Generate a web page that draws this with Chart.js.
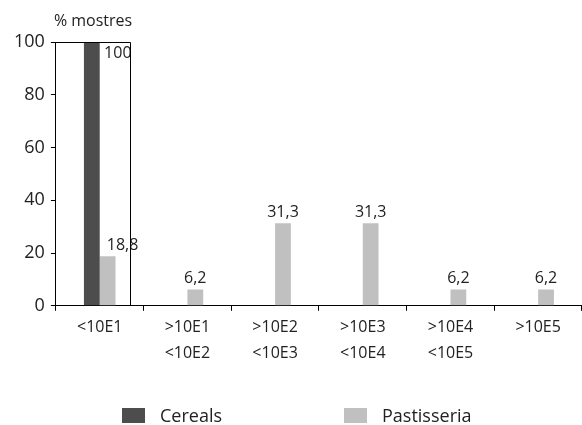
<!DOCTYPE html>
<html>
<head>
<meta charset="utf-8">
<script src="https://cdn.jsdelivr.net/npm/chart.js@4"></script>
<style>
  body { margin: 0; background: #fff; overflow: hidden; }
  #wrap { position: relative; width: 582px; height: 425px; }
  canvas { display: block; }
  .legend { position: absolute; top: 403px; font: 18px "Open Sans", sans-serif; color: #222; display: flex; align-items: center; }
  .legend span.box { display: inline-block; width: 23px; height: 15px; margin-right: 15px; }
</style>
</head>
<body>
<div id="wrap">
  <canvas id="c" width="582" height="425"></canvas>
  <div class="legend" style="left:122px"><span class="box" style="background:#4d4d4d"></span>Cereals</div>
  <div class="legend" style="left:344px"><span class="box" style="background:#c0c0c0"></span>Pastisseria</div>
</div>
<script>
// data
const categories = [['<10E1'], ['>10E1', '<10E2'], ['>10E2', '<10E3'], ['>10E3', '<10E4'], ['>10E4', '<10E5'], ['>10E5']];
const cereals = [100, 0, 0, 0, 0, 0];
const pastisseria = [18.8, 6.2, 31.3, 31.3, 6.2, 6.2];
const yTicks = [0, 20, 40, 60, 80, 100];

const FONT = '"Open Sans", sans-serif';

function fmt(v) {
  if (Number.isInteger(v)) return String(v);
  return v.toFixed(1).replace('.', ',');
}

// value labels above the bars (first group sits to the right, like the original)
const valueLabels = {
  id: 'valueLabels',
  afterDatasetsDraw(chart) {
    const ctx = chart.ctx;
    ctx.save();
    ctx.font = '16px ' + FONT;
    ctx.fillStyle = '#222';
    ctx.textAlign = 'center';
    ctx.textBaseline = 'bottom';
    chart.data.datasets.forEach(function(ds, di) {
      const meta = chart.getDatasetMeta(di);
      meta.data.forEach(function(bar, i) {
        const v = ds.data[i];
        if (!v) return;
        let x = bar.x;
        let y = bar.y - 3;
        if (i === 0) {
          x = bar.x + (di === 0 ? 26 : 15);
          if (di === 0) y = bar.y + 19;
        }
        ctx.fillText(fmt(v), x, y);
      });
    });
    ctx.restore();
  }
};

// axis caption and the thin frame around the first group
const extras = {
  id: 'extras',
  afterDraw(chart) {
    const ctx = chart.ctx;
    const area = chart.chartArea;
    const xs = chart.scales.x;
    ctx.save();
    ctx.font = '16px ' + FONT;
    ctx.fillStyle = '#222';
    ctx.textAlign = 'left';
    ctx.textBaseline = 'alphabetic';
    ctx.fillText('% mostres', area.left - 2, area.top - 16);

    const step = xs.getPixelForValue(1) - xs.getPixelForValue(0);
    const fx = Math.round(xs.getPixelForValue(0) + step * 0.34) + 0.5;
    ctx.strokeStyle = '#000';
    ctx.lineWidth = 1;
    ctx.beginPath();
    ctx.moveTo(area.left, area.top + 0.5);
    ctx.lineTo(fx, area.top + 0.5);
    ctx.lineTo(fx, area.bottom);
    ctx.stroke();
    ctx.restore();
  }
};

new Chart(document.getElementById('c'), {
  type: 'bar',
  data: {
    labels: categories,
    datasets: [
      { label: 'Cereals', data: cereals, backgroundColor: '#4d4d4d', categoryPercentage: 0.36, barPercentage: 1 },
      { label: 'Pastisseria', data: pastisseria, backgroundColor: '#c0c0c0', categoryPercentage: 0.36, barPercentage: 1 }
    ]
  },
  options: {
    responsive: false,
    animation: false,
    layout: { padding: { top: 42, left: 8, right: 0, bottom: 55 } },
    plugins: {
      legend: { display: false },
      tooltip: { enabled: false }
    },
    scales: {
      x: {
        grid: { drawOnChartArea: false, color: '#000', tickLength: 5, offset: true },
        border: { color: '#000', width: 1 },
        ticks: { font: { family: FONT, size: 16, lineHeight: 1.6 }, color: '#222', padding: 4, maxRotation: 0 }
      },
      y: {
        min: 0,
        max: 100,
        afterBuildTicks: function(axis) {
          axis.ticks = yTicks.map(function(v) { return { value: v }; });
        },
        grid: { drawOnChartArea: false, color: '#000', tickLength: 5 },
        border: { color: '#000', width: 1 },
        ticks: { font: { family: FONT, size: 18 }, color: '#222', padding: 6 }
      }
    }
  },
  plugins: [valueLabels, extras]
});
</script>
</body>
</html>
